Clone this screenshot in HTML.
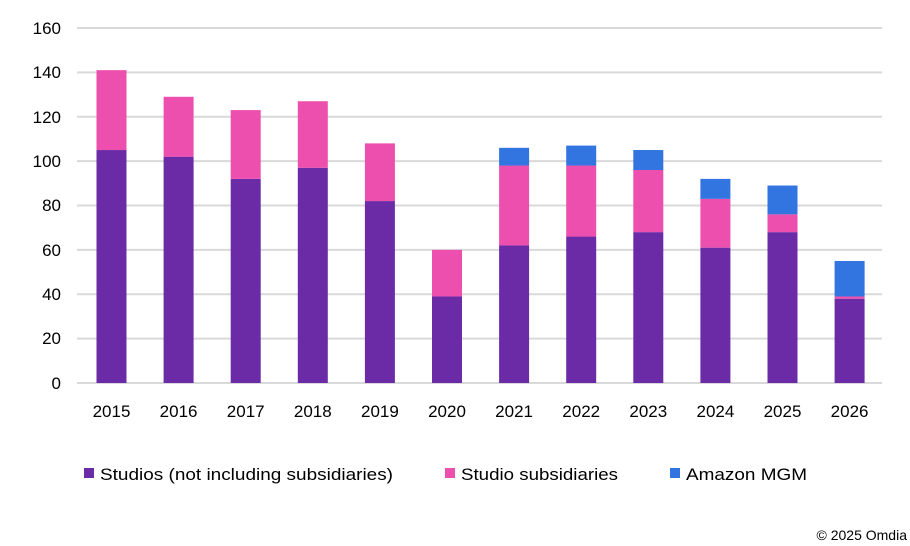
<!DOCTYPE html><html><head><style>body{margin:0;background:#fff}svg{display:block}text{font-family:"Liberation Sans",sans-serif;fill:#000}</style></head><body>
<svg width="910" height="546" viewBox="0 0 910 546" xmlns="http://www.w3.org/2000/svg">
<g stroke="#d9d9d9" stroke-width="2">
<line x1="77" x2="882" y1="28" y2="28"/><line x1="77" x2="882" y1="72.4" y2="72.4"/><line x1="77" x2="882" y1="116.8" y2="116.8"/><line x1="77" x2="882" y1="161.1" y2="161.1"/><line x1="77" x2="882" y1="205.5" y2="205.5"/><line x1="77" x2="882" y1="249.9" y2="249.9"/><line x1="77" x2="882" y1="294.3" y2="294.3"/><line x1="77" x2="882" y1="338.6" y2="338.6"/><line x1="77" x2="882" y1="383" y2="383"/>
</g>
<g font-size="17" text-anchor="end">
<text x="61" y="34">160</text><text x="61" y="78">140</text><text x="61" y="123">120</text><text x="61" y="167">100</text><text x="61" y="211">80</text><text x="61" y="256">60</text><text x="61" y="300">40</text><text x="61" y="344">20</text><text x="61" y="389">0</text>
</g>
<g fill="#6C2BA6">
<rect x="96.5" y="150.03" width="30" height="232.97"/>
<rect x="163.6" y="156.69" width="30" height="226.31"/>
<rect x="230.7" y="178.87" width="30" height="204.13"/>
<rect x="297.8" y="167.78" width="30" height="215.22"/>
<rect x="364.9" y="201.06" width="30" height="181.94"/>
<rect x="432" y="296.47" width="30" height="86.53"/>
<rect x="499.1" y="245.44" width="30" height="137.56"/>
<rect x="566.2" y="236.56" width="30" height="146.44"/>
<rect x="633.3" y="232.13" width="30" height="150.88"/>
<rect x="700.4" y="247.66" width="30" height="135.34"/>
<rect x="767.5" y="232.13" width="30" height="150.88"/>
<rect x="834.6" y="298.69" width="30" height="84.31"/>
</g>
<g fill="#EC4FAE">
<rect x="96.5" y="70.16" width="30" height="79.88"/>
<rect x="163.6" y="96.78" width="30" height="59.91"/>
<rect x="230.7" y="110.09" width="30" height="68.78"/>
<rect x="297.8" y="101.22" width="30" height="66.56"/>
<rect x="364.9" y="143.38" width="30" height="57.69"/>
<rect x="432" y="249.88" width="30" height="46.59"/>
<rect x="499.1" y="165.56" width="30" height="79.88"/>
<rect x="566.2" y="165.56" width="30" height="71"/>
<rect x="633.3" y="170" width="30" height="62.13"/>
<rect x="700.4" y="198.84" width="30" height="48.81"/>
<rect x="767.5" y="214.38" width="30" height="17.75"/>
<rect x="834.6" y="296.47" width="30" height="2.22"/>
</g>
<g fill="#3274E0">
<rect x="499.1" y="147.81" width="30" height="17.75"/>
<rect x="566.2" y="145.59" width="30" height="19.97"/>
<rect x="633.3" y="150.03" width="30" height="19.97"/>
<rect x="700.4" y="178.88" width="30" height="19.97"/>
<rect x="767.5" y="185.53" width="30" height="28.84"/>
<rect x="834.6" y="260.97" width="30" height="35.5"/>
</g>
<g font-size="17" text-anchor="middle">
<text x="111.5" y="417">2015</text><text x="178.6" y="417">2016</text><text x="245.7" y="417">2017</text><text x="312.8" y="417">2018</text><text x="379.9" y="417">2019</text><text x="447" y="417">2020</text><text x="514.1" y="417">2021</text><text x="581.2" y="417">2022</text><text x="648.3" y="417">2023</text><text x="715.4" y="417">2024</text><text x="782.5" y="417">2025</text><text x="849.6" y="417">2026</text>
</g>
<rect x="84" y="468" width="10" height="10" fill="#6C2BA6"/><text x="100" y="480" font-size="17" textLength="293" lengthAdjust="spacingAndGlyphs">Studios (not including subsidiaries)</text>
<rect x="445" y="468" width="10" height="10" fill="#EC4FAE"/><text x="461" y="480" font-size="17" textLength="157" lengthAdjust="spacingAndGlyphs">Studio subsidiaries</text>
<rect x="670" y="468" width="10" height="10" fill="#3274E0"/><text x="686" y="480" font-size="17" textLength="121" lengthAdjust="spacingAndGlyphs">Amazon MGM</text>
<text x="907" y="540" font-size="14" text-anchor="end">© 2025 Omdia</text>
</svg></body></html>
